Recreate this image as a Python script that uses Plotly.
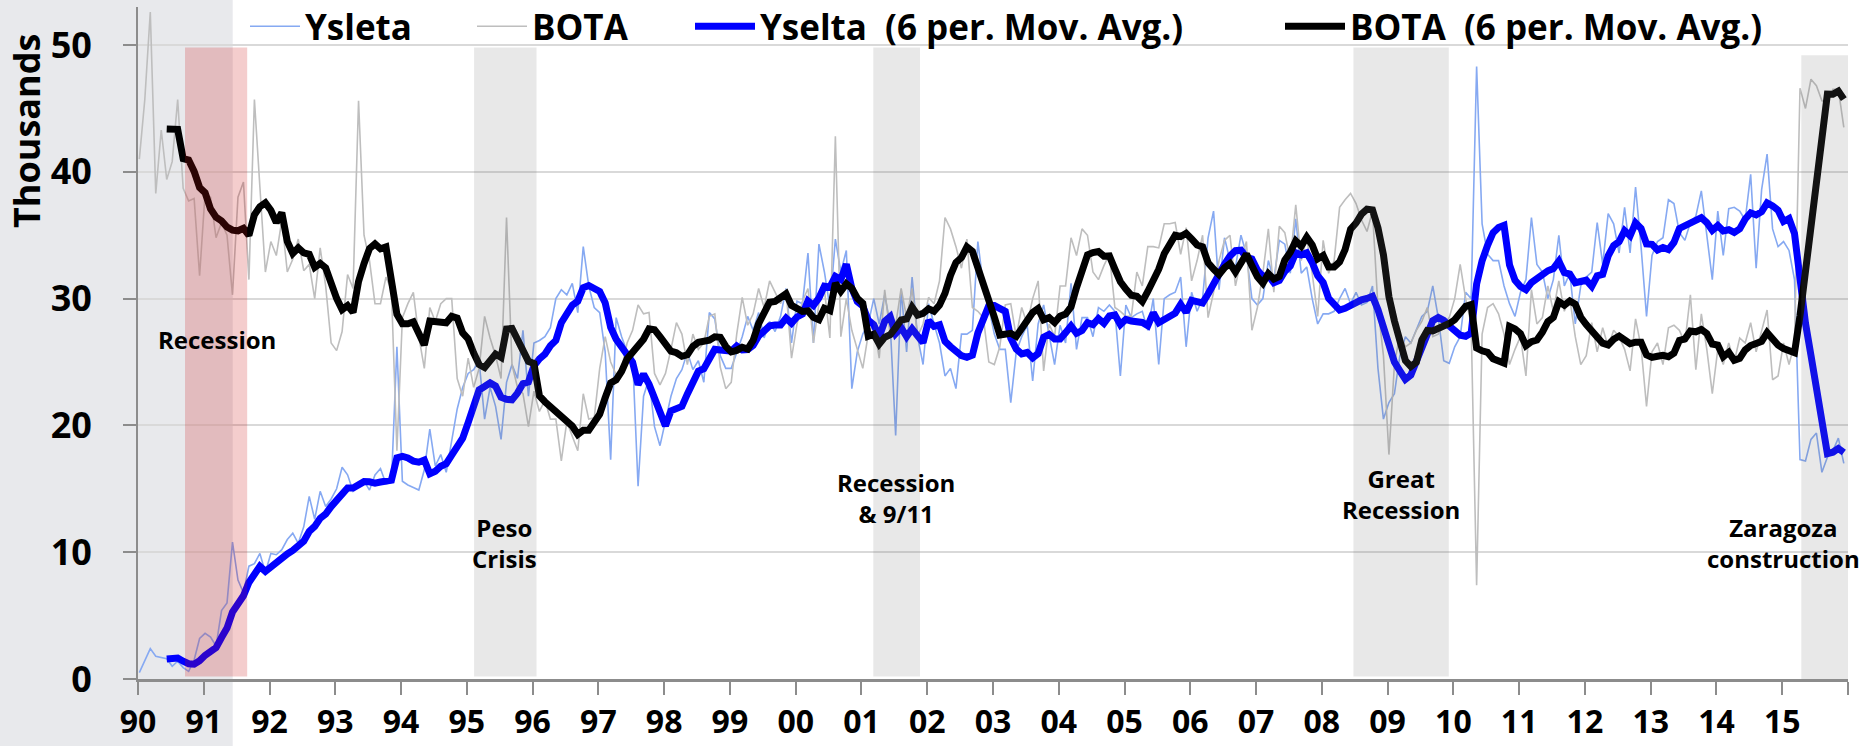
import numpy as np
import pandas as pd
import plotly.graph_objects as go

# ---------------- data (thousands, monthly Jan-1990 .. Dec-2015) ----------------
ysleta_1990s = [
    0.5, 1.5, 2.4, 1.8, 1.7, 1.6, 1.0, 1.4, 0.9, 0.6, 1.5, 3.2,          # 1990
    3.6, 3.3, 2.6, 5.4, 6.0, 10.8, 7.8, 6.8, 8.9, 9.1, 9.9, 8.4,         # 1991
    9.9, 9.8, 10.2, 11.0, 11.5, 10.7, 12.0, 14.4, 12.6, 14.8, 13.6, 14.2,  # 1992
    15.0, 16.7, 16.1, 14.8, 15.2, 15.6, 14.9, 16.1, 16.6, 15.4, 15.5, 26.2,  # 1993
    15.6, 15.3, 15.1, 14.9, 16.5, 19.7, 16.8, 17.7, 16.3, 18.9, 21.3, 23.0,  # 1994
    24.1, 24.4, 25.1, 20.5, 23.0, 21.5, 18.9, 23.4, 24.8, 23.7, 27.5, 22.3,  # 1995
    26.5, 26.7, 27.0, 27.7, 30.0, 30.7, 30.3, 31.2, 28.9, 34.1, 31.0, 29.3,  # 1996
    28.9, 25.8, 17.3, 28.5, 27.0, 25.8, 25.5, 15.2, 22.3, 23.7, 19.9, 18.4,  # 1997
    20.3, 22.3, 23.7, 24.4, 25.8, 24.4, 25.1, 23.4, 28.9, 28.4, 25.5, 24.5,  # 1998
    24.5, 25.8, 27.0, 28.6, 27.5, 28.9, 26.9, 28.2, 27.4, 28.6, 30.8, 26.5,  # 1999
]
ysleta_2000s = [
    29.8, 29.6, 33.6, 26.5, 34.3, 32.1, 29.3, 34.7, 32.1, 33.8, 22.9, 25.8,  # 2000
    27.2, 28.0, 30.0, 28.0, 30.3, 28.0, 19.2, 30.7, 25.8, 31.7, 27.0, 24.8,  # 2001
    29.6, 28.0, 26.5, 23.9, 24.5, 22.9, 27.2, 27.2, 27.5, 34.5, 31.0, 29.3,  # 2002
    27.2, 26.0, 26.0, 21.8, 25.8, 27.0, 27.9, 23.5, 28.0, 29.5, 27.2, 24.8,  # 2003
    27.9, 26.5, 31.2, 26.0, 28.5, 28.5, 27.0, 29.3, 29.0, 29.5, 29.0, 23.9,  # 2004
    29.5, 28.5, 28.8, 29.0, 27.5, 30.0, 24.8, 30.0, 30.3, 30.5, 31.7, 26.2,  # 2005
    30.5, 29.0, 30.0, 34.8, 36.9, 30.7, 34.8, 33.0, 32.5, 35.0, 33.5, 30.0,  # 2006
    29.5, 30.0, 33.0, 31.5, 34.6, 34.3, 32.0, 36.3, 32.0, 32.5, 30.0, 28.0,  # 2007
    28.8, 28.8, 29.0, 30.0, 30.8, 29.6, 30.5, 29.5, 29.7, 31.0, 24.5, 20.5,  # 2008
    21.8, 22.5, 25.5, 27.0, 26.5, 27.5, 28.6, 29.0, 31.0, 28.5, 25.1, 24.9,  # 2009
]
ysleta_2010s = [
    26.2, 27.0, 30.5, 30.0, 48.3, 35.9, 33.5, 33.0, 33.0, 31.0, 29.6, 28.6,  # 2010
    30.5, 31.5, 36.4, 32.7, 32.1, 30.0, 31.5, 35.0, 31.0, 32.0, 28.0, 31.0,  # 2011
    31.7, 32.1, 36.0, 32.7, 36.7, 35.9, 33.6, 37.2, 33.6, 38.8, 34.1, 28.6,  # 2012
    33.4, 34.5, 34.8, 37.8, 37.5, 35.2, 34.6, 36.0, 36.5, 38.5, 35.2, 31.5,  # 2013
    36.9, 33.4, 37.1, 37.2, 36.9, 36.2, 39.8, 32.4, 38.6, 41.4, 35.5, 34.1,  # 2014
    34.5, 33.8, 31.5, 17.3, 17.2, 18.9, 19.4, 16.3, 17.5, 18.0, 19.0, 17.0,  # 2015
]

bota_1990s = [
    41.0, 45.7, 52.6, 38.3, 43.3, 39.4, 40.8, 45.7, 38.7, 37.7, 37.9, 31.8,  # 1990
    38.3, 38.0, 34.8, 36.0, 35.0, 30.3, 38.0, 39.2, 31.5, 45.7, 38.8, 32.1,  # 1991
    34.5, 33.4, 36.2, 32.1, 33.1, 34.7, 32.2, 32.7, 30.0, 34.0, 31.0, 26.5,  # 1992
    25.9, 27.4, 31.9, 30.8, 45.6, 35.0, 33.0, 29.6, 29.6, 31.7, 30.7, 18.0,  # 1993
    28.5, 29.6, 30.5, 27.0, 24.5, 29.3, 28.2, 29.6, 30.0, 30.0, 23.7, 22.3,  # 1994
    25.3, 23.0, 24.5, 28.6, 26.9, 25.5, 23.7, 36.4, 24.8, 23.0, 22.5, 19.9,  # 1995
    22.7, 21.1, 22.0, 20.5, 20.5, 17.2, 20.3, 19.2, 18.0, 22.5, 20.5, 20.6,  # 1996
    24.5, 27.0, 25.0, 24.0, 24.5, 26.5, 27.5, 29.5, 28.8, 28.9, 24.1, 23.2,  # 1997
    24.1, 26.0, 28.1, 27.2, 24.8, 27.2, 26.0, 26.5, 28.6, 28.8, 24.6, 22.9,  # 1998
    23.4, 27.2, 30.1, 27.9, 28.8, 30.8, 29.3, 31.4, 30.5, 29.6, 30.7, 25.3,  # 1999
]
bota_2000s = [
    28.0, 29.8, 30.8, 26.5, 29.6, 30.7, 26.9, 42.8, 27.0, 30.0, 27.5, 26.0,  # 2000
    24.5, 27.2, 28.0, 25.3, 30.7, 27.2, 27.9, 30.8, 28.5, 30.8, 27.0, 28.0,  # 2001
    30.1, 29.6, 31.4, 36.4, 35.5, 34.1, 32.4, 34.7, 29.3, 29.0, 28.5, 25.0,  # 2002
    24.8, 26.2, 29.5, 29.6, 27.0, 29.3, 28.0, 30.0, 31.4, 24.3, 28.0, 27.0,  # 2003
    31.0, 31.0, 34.8, 33.4, 35.5, 35.0, 32.1, 31.5, 32.6, 33.5, 29.3, 29.0,  # 2004
    28.6, 28.6, 32.1, 31.0, 34.1, 34.1, 34.0, 35.9, 35.9, 36.0, 33.5, 35.6,  # 2005
    31.4, 33.0, 35.0, 28.5, 30.5, 33.0, 34.6, 35.0, 31.0, 33.0, 34.5, 27.5,  # 2006
    29.3, 32.0, 35.5, 30.5, 35.7, 35.2, 33.0, 37.4, 33.0, 34.8, 32.0, 28.6,  # 2007
    34.6, 32.0, 33.0, 37.2, 37.8, 38.3, 37.5, 36.2, 35.3, 36.9, 29.3, 25.5,  # 2008
    17.7, 24.8, 27.2, 26.2, 26.5, 27.5, 28.2, 29.3, 27.0, 27.2, 28.0, 28.5,  # 2009
]
bota_2010s = [
    30.0, 32.7, 30.0, 28.0, 7.4, 27.2, 29.3, 29.6, 28.8, 27.2, 24.8, 26.0,   # 2010
    27.0, 23.9, 30.7, 28.0, 28.5, 31.0, 29.0, 31.4, 29.0, 30.0, 27.0, 24.8,  # 2011
    25.5, 28.1, 25.8, 27.7, 26.2, 27.5, 27.0, 26.0, 24.3, 28.4, 26.2, 21.5,  # 2012
    25.8, 26.5, 24.8, 27.7, 27.9, 27.5, 26.5, 30.3, 24.4, 28.8, 26.0, 22.5,  # 2013
    26.0, 24.8, 26.5, 25.0, 26.9, 26.5, 28.1, 25.8, 27.5, 29.1, 23.6, 23.9,  # 2014
    26.5, 24.8, 26.5, 46.6, 45.0, 47.3, 46.8, 45.6, 45.5, 46.5, 46.5, 43.5,  # 2015
]

start_year = 1990
tick_years = list(range(1990, 2017))
tick_labels = ["90", "91", "92", "93", "94", "95", "96", "97", "98", "99",
               "00", "01", "02", "03", "04", "05", "06", "07", "08", "09",
               "10", "11", "12", "13", "14", "15", ""]
y_ticks = [0, 10, 20, 30, 40, 50]

# shaded event periods (decimal years)
period_names = ["Recession", "Peso<br>Crisis", "Recession<br>&amp; 9/11",
                "Great<br>Recession", "Zaragoza<br>construction"]
period_start = [1990.715, 1995.11, 2001.18, 2008.48, 2015.29]
period_end = [1991.66, 1996.06, 2001.89, 2009.93, 2016.0]
period_top = [49.8, 49.8, 49.8, 49.8, 49.2]
label_x = [1991.20, 1995.58, 2001.52, 2009.20, 2015.02]
label_y = [26.8, 10.7, 14.3, 14.6, 10.7]

# ---------------- build ----------------
ysleta = ysleta_1990s + ysleta_2000s + ysleta_2010s
bota = bota_1990s + bota_2000s + bota_2010s
n = len(ysleta)
x = start_year + np.arange(n) / 12.0 + 0.02
ys_ma = pd.Series(ysleta).rolling(6).mean().to_numpy()
bo_ma = pd.Series(bota).rolling(6).mean().to_numpy()

FONT = "Open Sans, Noto Sans, sans-serif"

# plot-area geometry in pixels (figure 1864 x 746)
L, R, T, B = 138, 16, 7, 67
PW, PH = 1864 - L - R, 746 - T - B


def px_x(p):
    return (p - L) / PW


def px_y(p):
    return (746 - B - p) / PH


fig = go.Figure()
fig.add_trace(go.Scatter(x=x, y=ysleta, mode="lines", name="Ysleta",
                         line=dict(color="#86A9F2", width=1.6), legend="legend"))
fig.add_trace(go.Scatter(x=x, y=bota, mode="lines", name="BOTA",
                         line=dict(color="#BEBEBE", width=1.6), legend="legend2"))
fig.add_trace(go.Scatter(x=x[5:], y=ys_ma[5:], mode="lines",
                         name="Yselta \u00a0(6 per. Mov. Avg.)",
                         line=dict(color="#0000FF", width=7), legend="legend3"))
fig.add_trace(go.Scatter(x=x[5:], y=bo_ma[5:], mode="lines",
                         name="BOTA \u00a0(6 per. Mov. Avg.)",
                         line=dict(color="#000000", width=7), legend="legend4"))

shapes = []
# light gray band behind the left part of the figure
shapes.append(dict(type="rect", xref="paper", yref="paper", x0=-0.2,
                   x1=px_x(232.7), y0=-0.3, y1=1.3,
                   fillcolor="#E8E9EC", line=dict(width=0), layer="below"))
for i in range(len(period_names)):
    col = "rgba(205,20,20,0.21)" if i == 0 else "rgba(110,110,110,0.16)"
    shapes.append(dict(type="rect", xref="x", yref="y",
                       x0=period_start[i], x1=period_end[i],
                       y0=0.2 if i < 4 else 0, y1=period_top[i],
                       fillcolor=col, line=dict(width=0), layer="above"))

annotations = []
for i in range(len(period_names)):
    annotations.append(dict(x=label_x[i], y=label_y[i], xref="x", yref="y",
                            text=period_names[i], showarrow=False,
                            font=dict(family=FONT, size=24, color="black", weight="bold"),
                            xanchor="center", yanchor="middle", align="center"))
annotations.append(dict(x=px_x(26), y=px_y(131), xref="paper", yref="paper",
                        text="Thousands", textangle=-90, showarrow=False,
                        font=dict(family=FONT, size=36, color="black", weight="bold"),
                        xanchor="center", yanchor="middle"))

leg_font = dict(family=FONT, size=35, color="black", weight="bold")


def leg(origin_px, item_w):
    return dict(orientation="h", yanchor="top", y=px_y(-3), xanchor="left",
                x=px_x(origin_px), font=leg_font, bgcolor="rgba(0,0,0,0)",
                itemwidth=item_w, borderwidth=0)


fig.update_layout(
    width=1864, height=746,
    margin=dict(l=L, r=R, t=T, b=B, autoexpand=False),
    paper_bgcolor="white", plot_bgcolor="rgba(0,0,0,0)",
    font=dict(family=FONT, color="black"),
    shapes=shapes, annotations=annotations,
    showlegend=True,
    legend=leg(245, 50),
    legend2=leg(472, 50),
    legend3=leg(690, 60),
    legend4=leg(1280, 60),
    xaxis=dict(range=[1990, 2016], tickmode="array", tickvals=tick_years, ticktext=tick_labels,
               ticks="outside", ticklen=13, tickwidth=2, tickcolor="#8C8C8C",
               showline=True, linecolor="#8C8C8C", linewidth=2.5, showgrid=False,
               zeroline=False, automargin=False,
               tickfont=dict(family=FONT, size=32, color="black", weight="bold"),
               ticklabelstandoff=0),
    yaxis=dict(range=[0, 53], tickmode="array", tickvals=y_ticks,
               ticks="outside", ticklen=13, tickwidth=2, tickcolor="#8C8C8C",
               showline=True, linecolor="#8C8C8C", linewidth=2, showgrid=True,
               gridcolor="#D9D9D9", gridwidth=1.5, zeroline=False, automargin=False,
               tickfont=dict(family=FONT, size=36, color="black", weight="bold"),
               ticklabelstandoff=24),
)

fig.write_html("out.html",
               config={"displayModeBar": False},
               post_script="document.body.style.margin='0px';"
                           "document.body.style.overflow='hidden';")
